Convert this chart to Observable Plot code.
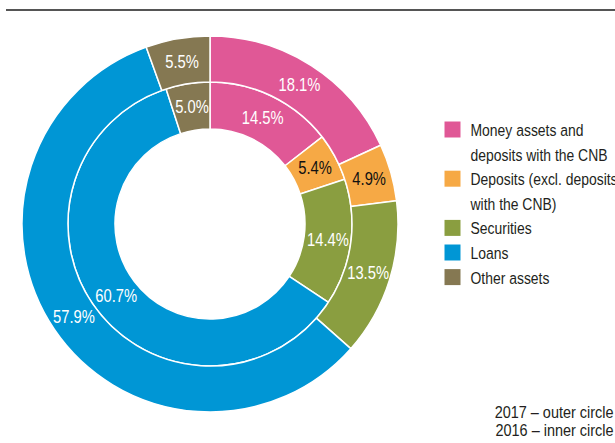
<!DOCTYPE html>
<html><head><meta charset="utf-8">
<script src="https://cdn.jsdelivr.net/npm/d3@7"></script>
<script src="https://cdn.jsdelivr.net/npm/@observablehq/plot@0.6"></script>
<style>
body{margin:0;background:#fff;overflow:hidden;}
#wrap{position:relative;width:615px;height:443px;}
#rule{position:absolute;left:6px;right:0;top:9px;height:2px;background:#555;}
#wrap svg{position:absolute;left:0;top:0;}
</style></head><body><div id="wrap"><div id="rule"></div></div>
<script>
const categories = ["Money assets and deposits with the CNB", "Deposits (excl. deposits with the CNB)", "Securities", "Loans", "Other assets"];
const legendLabels = ["Money assets and\ndeposits with the CNB", "Deposits (excl. deposits\nwith the CNB)", "Securities", "Loans", "Other assets"];
const legendLines = [2, 2, 1, 1, 1];
const values2017 = [18.1, 4.9, 13.5, 57.9, 5.5];   // outer circle
const values2016 = [14.5, 5.4, 14.4, 60.7, 5.0];   // inner circle
const colors = ["#e05896", "#f6a945", "#8a9e40", "#0096d5", "#857852"];
const darkLabel = [false, true, false, false, false];
const caption = ["2017 – outer circle", "2016 – inner circle"];

// layout
const FONT = "'Liberation Sans', Arial, sans-serif";
const FS = 17, FS_LABEL = 18;
const NARROW = 0.82, NARROW_CAPTION = 0.85;
const CX = 210, CY = 224;
const R = [95, 142, 188];
const rings = [
  {r0: R[0], r1: R[1], values: values2016},
  {r0: R[1], r1: R[2], values: values2017}
];

const fmt = v => v.toFixed(1) + "%";

// pie geometry from data
const labels = [];
const ringSlices = rings.map(ring => {
  const data = ring.values.map((v, i) => ({category: categories[i], value: v, dark: darkLabel[i]}));
  const arcs = d3.pie().sort(null).value(d => d.value)(data);
  const arc = d3.arc().innerRadius(ring.r0).outerRadius(ring.r1);
  arcs.forEach(a => {
    const [dx, dy] = arc.centroid(a);
    labels.push({x: CX + dx, y: CY + dy, text: fmt(a.data.value), dark: a.data.dark});
  });
  return {arcs, arc};
});

const ringMark = (index, scales) => {
  const g = d3.create("svg:g");
  for (const {arcs, arc} of ringSlices) {
    g.append("g")
      .attr("transform", `translate(${scales.x(CX)},${scales.y(CY)})`)
      .selectAll("path").data(arcs).join("path")
      .attr("d", arc)
      .attr("fill", d => scales.color(d.data.category))
      .attr("stroke", "#fff")
      .attr("stroke-width", 1.5)
      .attr("stroke-linejoin", "round");
  }
  return g.node();
};

// legend rows
const LTOP = 121, LSTEP = 24.6, SW = 16;
let line = 0;
const legend = categories.map((c, i) => {
  const top = LTOP + line * LSTEP;
  line += legendLines[i];
  return {category: c, label: legendLabels[i], top};
});

const chart = Plot.plot({
  width: 615,
  height: 443,
  margin: 0,
  x: {domain: [0, 615], range: [0, 615], axis: null},
  y: {domain: [0, 443], range: [0, 443], axis: null},
  color: {domain: categories, range: colors},
  style: {fontFamily: FONT, background: "transparent", overflow: "visible"},
  marks: [
    ringMark,
    Plot.text(labels.filter(d => !d.dark), {x: "x", y: "y", text: "text", fill: "white", fontSize: FS_LABEL}),
    Plot.text(labels.filter(d => d.dark), {x: "x", y: "y", text: "text", fill: "#111", fontSize: FS_LABEL}),
    Plot.dot(legend, {x: () => 444 + SW / 2, y: d => d.top + SW / 2, fill: "category", symbol: "square", r: SW / Math.sqrt(Math.PI), stroke: null}),
    Plot.text(legend, {x: () => 470, y: d => d.top - 3, text: "label", textAnchor: "start", lineAnchor: "top", lineHeight: LSTEP / FS, fontSize: FS, fill: "#231f20"}),
    Plot.text([caption.join("\n")], {x: () => 613, y: () => 403.5, text: d => d, textAnchor: "end", lineAnchor: "top", lineHeight: 19 / FS, fontSize: FS, fill: "#231f20"})
  ]
});
// condensed look: narrow every text horizontally about its anchor
d3.select(chart).selectAll("text").each(function() {
  const k = this.textContent.includes("circle") ? NARROW_CAPTION : NARROW;
  const t = this.getAttribute("transform");
  if (t) {
    this.setAttribute("transform", `${t} scale(${k},1)`);
  } else {
    const x = +this.getAttribute("x") || 0, y = +this.getAttribute("y") || 0;
    this.removeAttribute("x"); this.removeAttribute("y");
    this.setAttribute("transform", `translate(${x},${y}) scale(${k},1)`);
  }
});
document.getElementById("wrap").appendChild(chart);
</script>
</body></html>
